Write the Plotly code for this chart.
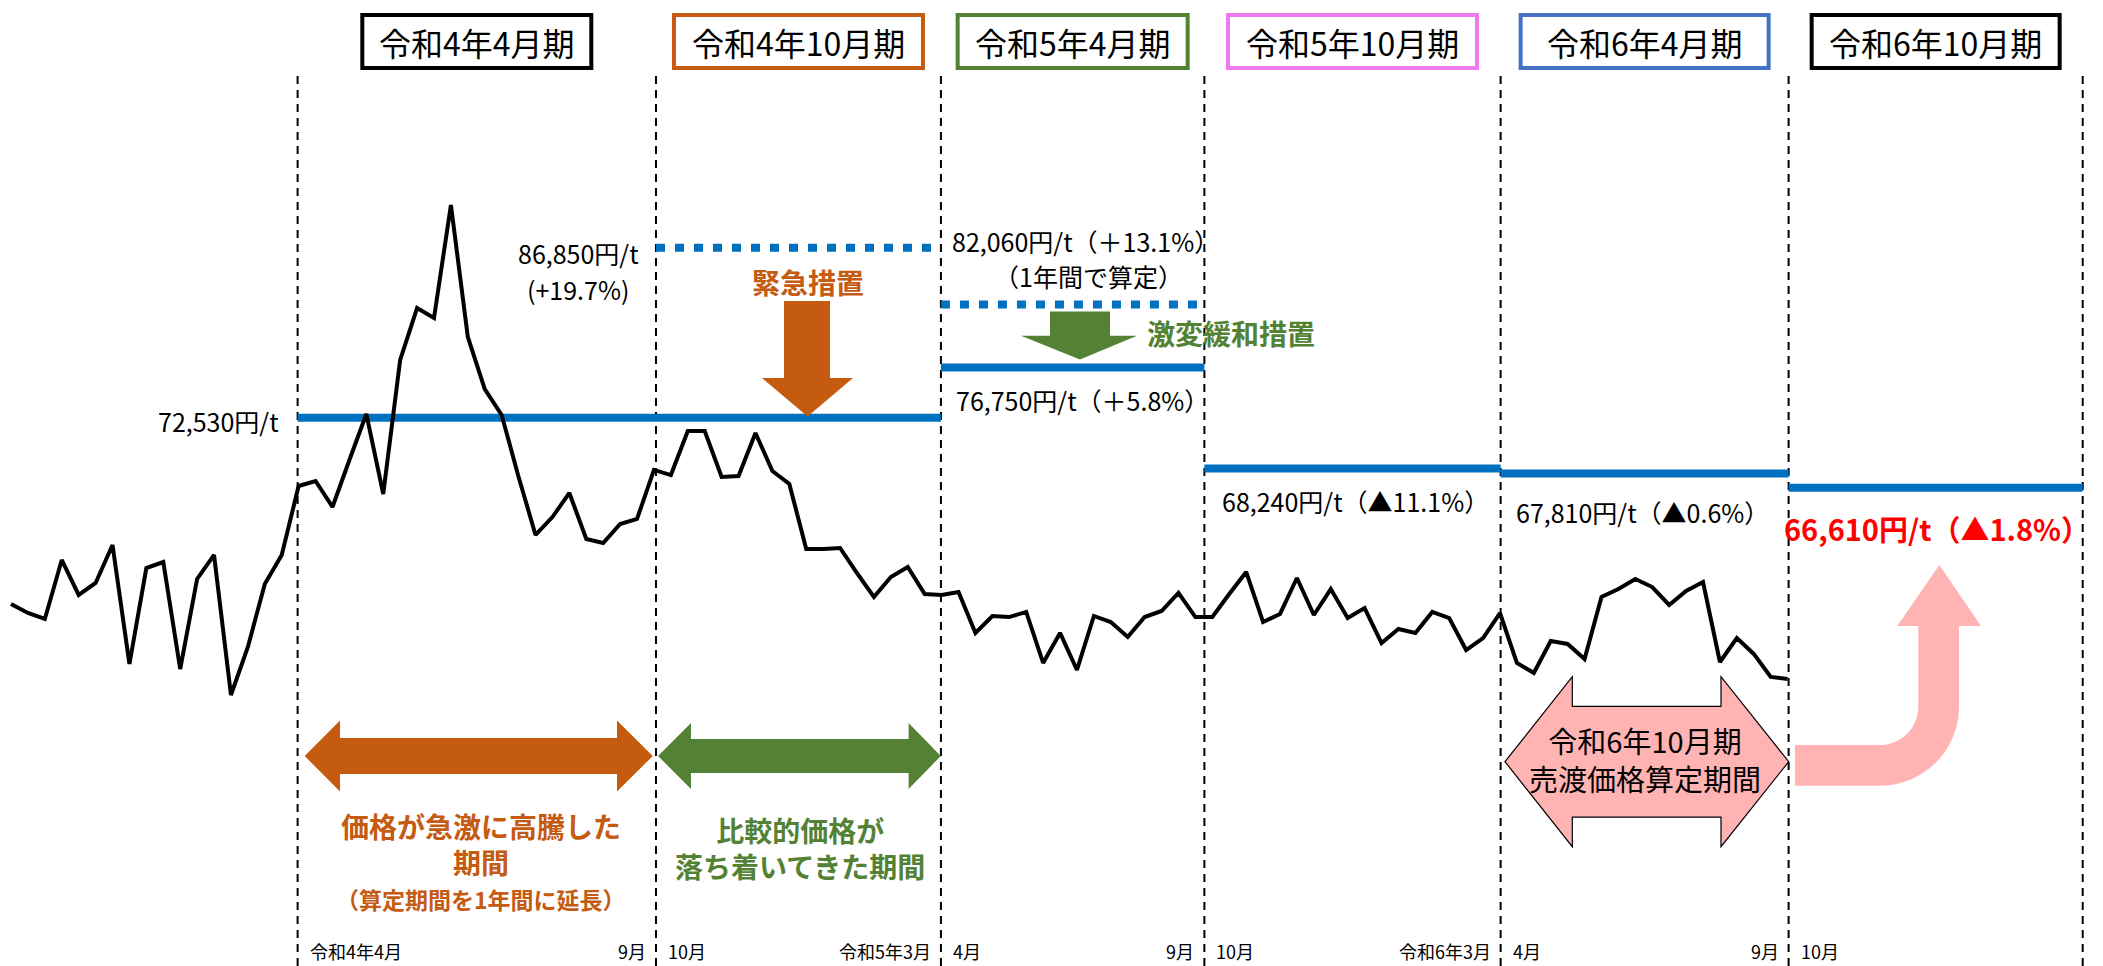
import math
import plotly.graph_objects as go

W, H = 2103, 966

# ---------------- data ----------------
# price trend (schematic), one value per step
prices = [
    56820, 56060, 55560, 60530, 57580, 58590, 61790, 51760, 59850, 60360,
    51340, 58930, 60950, 49150, 53200, 58510, 60950, 66770, 67190, 65000,
    68960, 72840, 66090, 77390, 81770, 80930, 90450, 79330, 74940, 72750,
    67530, 62640, 64150, 66180, 62300, 61960, 63560, 63990, 68120, 67690,
    71400, 71400, 67530, 67610, 71230, 68030, 66940, 61460, 61460, 61540,
    59430, 57410, 59100, 59940, 57660, 57580, 57830, 54380, 55810, 55720,
    56150, 51850, 54380, 51260, 55810, 55300, 54040, 55720, 56230, 57750,
    55720, 55720, 57660, 59520, 55300, 55980, 59010, 55890, 58080, 55640,
    56480, 53530, 54710, 54380, 56150, 55640, 52940, 53950, 56060, 51850,
    51000, 53700, 53450, 52180, 57410, 58080, 58930, 58250, 56740, 57920,
    58670, 51930, 53950, 52610, 50670, 50500,
]
period_names = ["令和4年4月期", "令和4年10月期", "令和5年4月期",
                "令和5年10月期", "令和6年4月期", "令和6年10月期"]
period_edges = [16.94, 38.12, 54.96, 70.53, 88.04, 105.06, 122.44]
sale_prices = [72530, 72530, 76750, 68240, 67810, 66610]
sale_changes = [None, None, "＋5.8%", "▲11.1%", "▲0.6%", "▲1.8%"]
trial_prices = [None, 86850, 82060, None, None, None]
trial_changes = [None, "+19.7%", "＋13.1%", None, None, None]
start_months = ["令和4年4月", "10月", "4月", "10月", "4月", "10月"]
end_months = ["9月", "令和5年3月", "9月", "令和6年3月", "9月", ""]

# ---------------- layout helpers ----------------
X0, X1 = -0.650, 123.64
Y_TOP, Y_BOT = 107734, 26305
FONT = "Noto Sans CJK JP"
BLUE = "#0070C0"
ORANGE = "#C55A11"
GREEN = "#548235"
PINK = "#FFB3B3"
BOX_COLORS = ["#000000", ORANGE, GREEN, "#EE7BEE", "#4472C4", "#000000"]
BOX_WIDTHS = [229, 249, 230, 249, 248, 248]


def xpx(i):
    return (i - X0) / (X1 - X0) * W


def pxx(p):
    return p / W


def pyy(p):
    return 1 - p / H


def path(points):
    s = "M " + " L ".join(f"{pxx(x):.5f},{pyy(y):.5f}" for x, y in points)
    return s + " Z"


fig = go.Figure()

# blue sale price levels
for k in range(len(sale_prices)):
    fig.add_trace(go.Scatter(
        x=[period_edges[k], period_edges[k + 1]], y=[sale_prices[k]] * 2,
        mode="lines", line=dict(color=BLUE, width=8), hoverinfo="skip",
        showlegend=False))
for k, v in enumerate(trial_prices):
    if v is None:
        continue
    fig.add_trace(go.Scatter(
        x=[period_edges[k], period_edges[k + 1]], y=[v, v],
        mode="lines", line=dict(color=BLUE, width=8, dash="9px,10px"),
        hoverinfo="skip", showlegend=False))

# black price line
fig.add_trace(go.Scatter(
    x=list(range(len(prices))), y=prices, mode="lines",
    line=dict(color="black", width=4), showlegend=False))

shapes = []
ann = []

# dashed period boundaries
for e in period_edges:
    shapes.append(dict(type="line", xref="x", yref="paper", x0=e, x1=e,
                       y0=0, y1=pyy(70), layer="below",
                       line=dict(color="black", width=2, dash="8px,6px")))

# period title boxes
for k, name in enumerate(period_names):
    cx = xpx((period_edges[k] + period_edges[k + 1]) / 2)
    hw = BOX_WIDTHS[k] / 2
    shapes.append(dict(type="rect", xref="paper", yref="paper",
                       x0=pxx(cx - hw), x1=pxx(cx + hw), y0=pyy(68), y1=pyy(15),
                       line=dict(color=BOX_COLORS[k], width=4),
                       fillcolor="white"))
    ann.append(dict(x=pxx(cx), y=pyy(42), text=name,
                    font=dict(size=32, color="black", family=FONT)))

# month labels under the chart
for k in range(len(period_names)):
    if start_months[k]:
        ann.append(dict(x=period_edges[k], xref="x", y=pyy(951), text=start_months[k],
                        xanchor="left", xshift=10,
                        font=dict(size=18, color="black", family=FONT)))
    if end_months[k]:
        ann.append(dict(x=period_edges[k + 1], xref="x", y=pyy(951), text=end_months[k],
                        xanchor="right", xshift=-8,
                        font=dict(size=18, color="black", family=FONT)))

TXT = dict(size=25, color="black", family=FONT)

# level labels
ann.append(dict(x=pxx(281), y=pyy(421), text=f"{sale_prices[0]:,}円/t",
                xanchor="right", font=TXT))
ann.append(dict(x=pxx(578), y=pyy(253), text=f"{trial_prices[1]:,}円/t", font=TXT))
ann.append(dict(x=pxx(578), y=pyy(289), text=f"({trial_changes[1]})", font=TXT))
ann.append(dict(x=pxx(1085), y=pyy(241),
                text=f"{trial_prices[2]:,}円/t（{trial_changes[2]}）", font=TXT))
ann.append(dict(x=pxx(1088), y=pyy(276), text="（1年間で算定）", font=TXT))
label_pos = {2: (1082, 400), 3: (1355, 501), 4: (1642, 512)}
for k, (lx, ly) in label_pos.items():
    ann.append(dict(x=pxx(lx), y=pyy(ly),
                    text=f"{sale_prices[k]:,}円/t（{sale_changes[k]}）", font=TXT))
ann.append(dict(x=pxx(1937), y=pyy(528),
                text=f"<b>{sale_prices[5]:,}円/t（{sale_changes[5]}）</b>",
                font=dict(size=29, color="#FF0000", family=FONT)))

# measures
ann.append(dict(x=pxx(808), y=pyy(282), text="<b>緊急措置</b>",
                font=dict(size=28, color=ORANGE, family=FONT)))
ann.append(dict(x=pxx(1145), y=pyy(333), text="<b>激変緩和措置</b>", xanchor="left",
                font=dict(size=28, color=GREEN, family=FONT)))

# down arrows
shapes.append(dict(type="path", xref="paper", yref="paper", line=dict(width=0),
                   fillcolor=ORANGE,
                   path=path([(784, 301), (830, 301), (830, 378), (853, 378),
                              (807.6, 416.5), (762, 378), (784, 378)])))
shapes.append(dict(type="path", xref="paper", yref="paper", line=dict(width=0),
                   fillcolor=GREEN,
                   path=path([(1050, 311.6), (1110, 311.6), (1110, 335.8), (1137, 335.8),
                              (1080, 359.6), (1021, 335.8), (1050, 335.8)])))


def double_arrow(x0, xb0, xb1, x1, cy, head_h, shaft_h):
    return [(x0, cy), (xb0, cy - head_h / 2), (xb0, cy - shaft_h / 2),
            (xb1, cy - shaft_h / 2), (xb1, cy - head_h / 2), (x1, cy),
            (xb1, cy + head_h / 2), (xb1, cy + shaft_h / 2),
            (xb0, cy + shaft_h / 2), (xb0, cy + head_h / 2)]


shapes.append(dict(type="path", xref="paper", yref="paper", line=dict(width=0),
                   fillcolor=ORANGE,
                   path=path(double_arrow(304.7, 340, 617, 652.8, 756, 71, 36))))
shapes.append(dict(type="path", xref="paper", yref="paper", line=dict(width=0),
                   fillcolor=GREEN,
                   path=path(double_arrow(658, 691, 908.6, 940.8, 756, 66, 34))))
shapes.append(dict(type="path", xref="paper", yref="paper",
                   line=dict(width=1.2, color="black"), fillcolor=PINK,
                   path=path(double_arrow(1505, 1572.3, 1721, 1788.7, 761.7, 170, 110.7))))

# curved pink arrow
cx, cy, r_in, r_out = 1880, 706.7, 38.3, 79
pts = [(1795, cy + r_in)]
for j in range(0, 21):
    t = math.radians(90 - 90 * j / 20)
    pts.append((cx + r_in * math.cos(t), cy + r_in * math.sin(t)))
pts += [(cx + r_in, 626), (1897.3, 626), (1939.3, 565), (1981, 626), (cx + r_out, 626)]
for j in range(0, 21):
    t = math.radians(90 * j / 20)
    pts.append((cx + r_out * math.cos(t), cy + r_out * math.sin(t)))
pts.append((1795, cy + r_out))
shapes.append(dict(type="path", xref="paper", yref="paper", line=dict(width=0),
                   fillcolor=PINK, path=path(pts)))

# bottom texts
ann.append(dict(x=pxx(481), y=pyy(844), text="<b>価格が急激に高騰した<br>期間</b>",
                font=dict(size=28, color=ORANGE, family=FONT)))
ann.append(dict(x=pxx(481), y=pyy(899), text="<b>（算定期間を1年間に延長）</b>",
                font=dict(size=23, color=ORANGE, family=FONT)))
ann.append(dict(x=pxx(800), y=pyy(848), text="<b>比較的価格が<br>落ち着いてきた期間</b>",
                font=dict(size=28, color=GREEN, family=FONT)))
ann.append(dict(x=pxx(1645), y=pyy(758.5), text="令和6年10月期<br>売渡価格算定期間",
                font=dict(size=29, color="black", family=FONT)))

for a in ann:
    a.setdefault("xref", "paper")
    a.setdefault("yref", "paper")
    a.setdefault("xanchor", "center")
    a["yanchor"] = "middle"
    a["showarrow"] = False

fig.update_layout(
    width=W, height=H, margin=dict(l=0, r=0, t=0, b=0),
    paper_bgcolor="white", plot_bgcolor="white",
    xaxis=dict(range=[X0, X1], visible=False, showgrid=False, zeroline=False),
    yaxis=dict(range=[Y_BOT, Y_TOP], visible=False, showgrid=False, zeroline=False),
    shapes=shapes, annotations=ann, showlegend=False,
    font=dict(family=FONT),
)
fig.write_html(
    "out.html",
    config=dict(displayModeBar=False),
    post_script="document.body.style.margin='0px';document.body.style.overflow='hidden';",
)
